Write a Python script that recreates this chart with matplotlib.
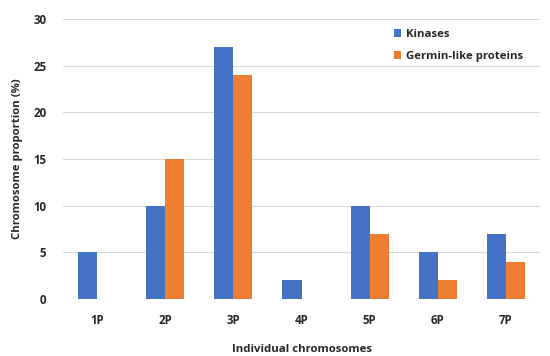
import numpy as np
import matplotlib
matplotlib.use("Agg")
import matplotlib.pyplot as plt

plt.rcParams['font.family'] = ['Open Sans', 'DejaVu Sans']

categories = ["1P", "2P", "3P", "4P", "5P", "6P", "7P"]
kinases = [5, 10, 27, 2, 10, 5, 7]
germins = [0, 15, 24, 0, 7, 2, 4]

fig = plt.figure(figsize=(5.5, 3.56), dpi=100)
ax = fig.add_axes([0.1145, 0.160, 0.8675, 0.787])

x = np.arange(len(categories))
w = 0.28
ax.bar(x - w / 2, kinases, w, color="#4472C4", label="Kinases", zorder=3)
ax.bar(x + w / 2, germins, w, color="#ED7D31", label="Germin-like proteins", zorder=3)

ax.set_xlim(-0.5, len(categories) - 0.5)
ax.set_ylim(0, 30)
ax.set_yticks([0, 5, 10, 15, 20, 25, 30])
ax.set_xticks(x)
ax.set_xticklabels(categories)
ax.grid(axis="y", color="#D9D9D9", linewidth=0.8, zorder=0)
for s in ax.spines.values():
    s.set_visible(False)
ax.tick_params(length=0, labelsize=8.3, colors="#262626")
ax.tick_params(axis="x", pad=11)
ax.tick_params(axis="y", pad=12)
for lab in ax.get_xticklabels() + ax.get_yticklabels():
    lab.set_fontweight("bold")

ax.set_xlabel("Individual chromosomes", fontsize=8.2, fontweight="bold", color="#262626", labelpad=12)
ax.set_ylabel("Chromosome proportion (%)", fontsize=8.2, fontweight="bold", color="#262626", labelpad=7)

leg = ax.legend(loc="upper right", bbox_to_anchor=(0.986, 1.0), frameon=False,
                fontsize=8.2, handlelength=0.7, handleheight=0.7, handletextpad=0.4,
                labelspacing=0.95)
for t in leg.get_texts():
    t.set_fontweight("bold")
    t.set_color("#262626")

fig.savefig("out.png", dpi=100)
